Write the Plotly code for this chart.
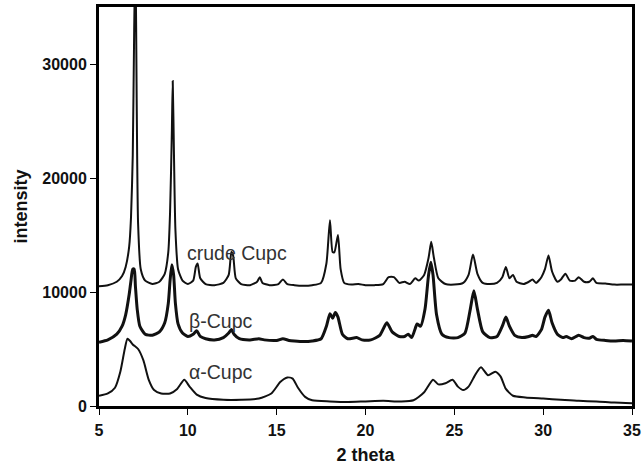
import plotly.graph_objects as go

# ---- data ----
crude_x = [5.0, 5.5, 6.0, 6.3, 6.5, 6.7, 6.8, 6.9, 6.98, 7.05, 7.12, 7.2, 7.35, 7.6, 8.0, 8.4, 8.7, 8.9,
           9.0, 9.1, 9.15, 9.22, 9.3, 9.45, 9.7, 10.0, 10.3, 10.45, 10.55, 10.7, 11.0, 11.5, 12.0, 12.3,
           12.45, 12.55, 12.7, 13.0, 13.5, 13.9, 14.05, 14.2, 14.6, 15.1, 15.35, 15.6, 16.0, 16.5, 17.0,
           17.5, 17.8, 18.0, 18.15, 18.25, 18.45, 18.6, 18.8, 19.2, 19.6, 20.0, 20.5, 21.0, 21.3, 21.6,
           21.9, 22.2, 22.5, 22.8, 23.0, 23.3, 23.55, 23.7, 23.85, 24.1, 24.5, 25.0, 25.5, 25.8, 26.05,
           26.3, 26.6, 27.0, 27.4, 27.7, 27.9, 28.1, 28.3, 28.5, 28.9, 29.2, 29.4, 29.6, 29.9, 30.1, 30.3,
           30.5, 30.8, 31.0, 31.25, 31.5, 31.8, 32.0, 32.3, 32.6, 32.8, 33.0, 33.5, 34.0, 34.5, 35.0]
crude_y = [10500, 10600, 10900, 11400, 12200, 14000, 16500, 22000, 33000, 40000, 27000, 16000, 12000,
           11000, 10700, 10900, 11600, 13500, 17000, 24000, 28500, 22000, 15500, 12000, 11000, 10700,
           11000, 12200, 12500, 11200, 10700, 10600, 10800, 11500, 13500, 13200, 11200, 10700, 10600,
           10900, 11300, 10800, 10600, 10700, 11100, 10700, 10600, 10550, 10600, 10800, 12500, 16300,
           13500, 13500, 15000, 12000, 10800, 10650, 10700, 10600, 10600, 10700, 11300, 11300, 10800,
           10900, 10700, 11200, 11000, 11500, 13000, 14400, 13000, 11200, 10700, 10650, 10800, 11500,
           13300, 11600, 10800, 10700, 10800, 11300, 12200, 11200, 11500, 10900, 10700, 10900, 11100,
           10800, 11300, 12000, 13200, 11800, 10900, 11100, 11600, 11000, 11000, 11300, 10900, 10900,
           11200, 10800, 10750, 10650, 10650, 10650]

beta_x = [5.0, 5.5, 6.0, 6.3, 6.5, 6.7, 6.8, 6.9, 6.98, 7.05, 7.15, 7.3, 7.6, 8.0, 8.4, 8.7, 8.9, 9.0,
          9.1, 9.2, 9.3, 9.45, 9.7, 10.0, 10.3, 10.5, 10.7, 11.0, 11.5, 12.0, 12.3, 12.45, 12.6, 12.9,
          13.5, 14.0, 14.3, 15.0, 15.35, 15.7, 16.0, 16.5, 17.0, 17.5, 17.8, 18.0, 18.15, 18.3, 18.45,
          18.7, 19.0, 19.5, 19.8, 20.3, 20.8, 21.2, 21.5, 21.9, 22.2, 22.4, 22.6, 22.8, 22.9, 23.1,
          23.35, 23.55, 23.68, 23.8, 24.0, 24.3, 24.7, 25.2, 25.6, 25.9, 26.1, 26.3, 26.6, 27.0, 27.4,
          27.7, 27.9, 28.1, 28.4, 28.8, 29.2, 29.4, 29.6, 29.9, 30.1, 30.3, 30.5, 30.8, 31.1, 31.3,
          31.6, 32.0, 32.3, 32.6, 32.8, 33.0, 33.5, 34.0, 34.5, 35.0]
beta_y = [5600, 5800, 6300, 7000, 8000, 9800, 11000, 12000, 12000, 10500, 8500, 7000, 6300, 6200, 6500,
          7300, 9000, 11000, 12400, 11500, 9000, 7200, 6400, 6100, 6300, 6600, 6100, 5900, 5800, 6000,
          6400, 6700, 6300, 5900, 5800, 5900, 5800, 5750, 5900, 5750, 5700, 5650, 5700, 5900, 7000,
          8100, 7700, 8200, 7800, 6300, 5900, 6000, 5800, 5800, 6200, 7300, 6500, 6100, 6100, 6300,
          6000, 6800, 7200, 7000, 8500, 11500, 12600, 11500, 8000, 6300, 6000, 6000, 6400, 8500, 10100,
          8500, 6500, 6000, 6100, 7000, 7800, 7000, 6200, 6000, 6100, 6200, 6100, 6700, 7800, 8400,
          7300, 6300, 6000, 6100, 5900, 6200, 6000, 5950, 6100, 5850, 5750, 5700, 5750, 5700]

alpha_x = [5.0, 5.5, 5.9, 6.2, 6.45, 6.6, 6.75, 6.9, 7.2, 7.5, 7.8, 8.1, 8.5, 9.0, 9.4, 9.8, 10.1, 10.5,
           11.0, 12.0, 13.0, 14.0, 14.7, 15.2, 15.6, 15.9, 16.2, 16.6, 17.0, 18.0, 19.0, 20.0, 21.0,
           22.0, 22.7, 23.3, 23.8, 24.1, 24.5, 24.9, 25.2, 25.5, 25.8, 26.2, 26.5, 26.9, 27.3, 27.6,
           27.9, 28.3, 29.0, 30.0, 31.0, 32.0, 33.0, 34.0, 35.0]
alpha_y = [900, 1100, 1600, 3000, 5000, 5900, 5700, 5400, 5000, 4000, 2300, 1400, 1100, 1100, 1500,
           2300, 1700, 1000, 700, 550, 550, 650, 1100, 2100, 2500, 2400, 1600, 800, 500, 400, 350, 400,
           450, 400, 500, 1200, 2300, 1900, 2000, 2300, 1700, 1400, 1700, 2800, 3400, 2700, 3000, 2600,
           1500, 900, 750, 650, 550, 450, 400, 300, 250]

labels = ["crude Cupc", "β-Cupc", "α-Cupc"]
label_x = [9.85, 9.95, 9.95]
label_y = [13400, 7500, 3000]

x_ticks = [5, 10, 15, 20, 25, 30, 35]
y_ticks = [0, 10000, 20000, 30000]

FONT = "Liberation Sans, Arial, sans-serif"

fig = go.Figure()
fig.add_trace(go.Scatter(x=crude_x, y=crude_y, mode="lines",
                         line=dict(color="#111", width=2, shape="spline", smoothing=0.6),
                         name=labels[0], showlegend=False))
fig.add_trace(go.Scatter(x=beta_x, y=beta_y, mode="lines",
                         line=dict(color="#111", width=3, shape="spline", smoothing=0.6),
                         name=labels[1], showlegend=False))
fig.add_trace(go.Scatter(x=alpha_x, y=alpha_y, mode="lines",
                         line=dict(color="#111", width=2, shape="spline", smoothing=0.6),
                         name=labels[2], showlegend=False))

for t, lx, ly in zip(labels, label_x, label_y):
    fig.add_annotation(x=lx, y=ly, text=t, showarrow=False, xanchor="left", yanchor="middle",
                       font=dict(family=FONT, size=19.5, color="#333"))

axis_common = dict(showline=True, linecolor="black", linewidth=3, mirror=True, ticks="outside",
                   ticklen=6, tickwidth=1, tickcolor="black", showgrid=False, zeroline=False,
                   automargin=False,
                   tickfont=dict(family=FONT, size=16, color="#111", weight="bold"))

fig.update_layout(
    width=642, height=467,
    margin=dict(l=99, r=10, t=7, b=61),
    paper_bgcolor="white", plot_bgcolor="white",
    xaxis=dict(range=[5, 35], tickvals=x_ticks, ticktext=[str(v) for v in x_ticks],
               ticklabelstandoff=2,
               title=dict(text="2 theta", standoff=11,
                          font=dict(family=FONT, size=18, color="#111", weight="bold")),
               **axis_common),
    yaxis=dict(range=[0, 35000], tickvals=y_ticks, ticktext=[str(v) for v in y_ticks],
               title=dict(text="intensity", standoff=10,
                          font=dict(family=FONT, size=18, color="#111", weight="bold")),
               **axis_common),
)

fig.write_html("out.html", config={"displayModeBar": False},
               post_script="document.body.style.margin='0';document.body.style.padding='0';")
